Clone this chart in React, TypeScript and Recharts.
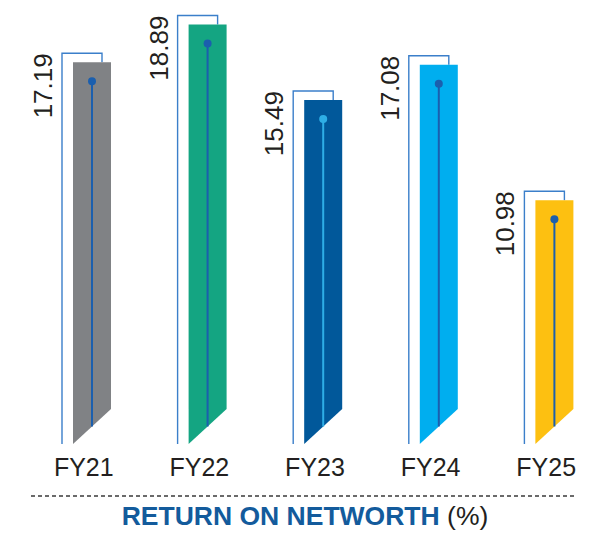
import React from 'react';
import { BarChart, Bar, XAxis, YAxis, LabelList } from 'recharts';

const years = ['FY21', 'FY22', 'FY23', 'FY24', 'FY25'];
const ronw = [17.19, 18.89, 15.49, 17.08, 10.98];
const barColors = ['#808285', '#14a582', '#01589a', '#00aeef', '#fdc011'];
const stemColors = ['#1b5fae', '#1b5fae', '#2eaee6', '#1b5fae', '#1b5fae'];

const data = years.map((fy, i) => ({ fy, value: ronw[i] }));

const FONT = '"Liberation Sans", Arial, Helvetica, sans-serif';
const OUTLINE = '#3b7fca';

// bar is pushed right of the band, the open outline sits behind it up-left
const BarShape = (props: any) => {
  const { x, y, width, height, index } = props;
  const left = x + 6;
  const right = left + width;
  const base = y + height;
  const cut = 35;
  const ox = left - 11;
  const oy = y - 9;
  const orx = right - 9;
  const cx = left + width / 2;
  return (
    <g>
      <path
        d={`M${ox},${base} L${ox},${oy} L${orx},${oy} L${orx},${y}`}
        fill="none"
        stroke={OUTLINE}
        strokeWidth={1.4}
      />
      <path
        d={`M${left},${y} L${right},${y} L${right},${base - cut} L${left},${base} Z`}
        fill={barColors[index]}
      />
      <line x1={cx} y1={y + 19} x2={cx} y2={base - cut / 2} stroke={stemColors[index]} strokeWidth={2} />
      <circle cx={cx} cy={y + 19} r={4} fill={stemColors[index]} />
    </g>
  );
};

const ValueLabel = (props: any) => {
  const { x, y, value } = props;
  const tx = x - 15;
  const ty = y - 9;
  return (
    <text
      x={tx}
      y={ty}
      transform={`rotate(-90 ${tx} ${ty})`}
      textAnchor="end"
      fontFamily={FONT}
      fontSize={26}
      fill="#231f20"
    >
      {value.toFixed(2)}
    </text>
  );
};

const YearTick = (props: any) => {
  const { x, y, payload } = props;
  return (
    <text x={x - 2} y={y + 24} textAnchor="middle" fontFamily={FONT} fontSize={25} fill="#231f20">
      {payload.value}
    </text>
  );
};

const App: React.FC = () => {
  return (
    <div style={{ position: 'relative', width: 600, height: 532 }}>
      <BarChart
        width={600}
        height={532}
        data={data}
        margin={{ top: 3, right: 2, left: 20, bottom: 56 }}
      >
        <XAxis dataKey="fy" axisLine={false} tickLine={false} height={40} tick={<YearTick />} interval={0} />
        <YAxis hide domain={[0, 19.5]} />
        <Bar dataKey="value" barSize={38} shape={<BarShape />} isAnimationActive={false}>
          <LabelList dataKey="value" content={<ValueLabel />} />
        </Bar>
      </BarChart>
      <svg width={600} height={532} style={{ position: 'absolute', left: 0, top: 0, pointerEvents: 'none' }}>
        <line x1={23} y1={488} x2={568} y2={488} stroke="#3a3a3a" strokeWidth={1.6} strokeDasharray="4 3" />
        <text x={297} y={517} textAnchor="middle" fontFamily={FONT} fontSize={26.5}>
          <tspan fontWeight="bold" fill="#135b9c">RETURN ON NETWORTH</tspan>
          <tspan fill="#231f20"> (%)</tspan>
        </text>
      </svg>
    </div>
  );
};

export default App;
